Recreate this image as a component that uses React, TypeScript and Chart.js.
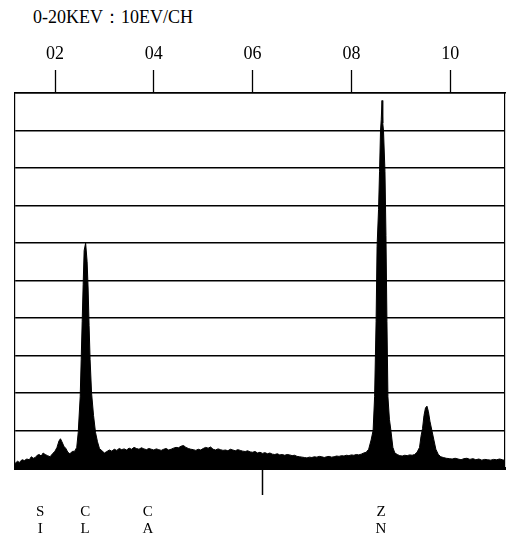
import React, { useEffect, useRef } from "react";
import { Chart, registerables } from "chart.js";

Chart.register(...registerables);

const TITLE = "0-20KEV：10EV/CH";

// energy (keV) of each sampled channel
const ENERGY = [
  1.19, 1.24, 1.28, 1.33, 1.38, 1.43, 1.48, 1.52, 1.56, 1.6, 1.64, 1.68, 1.72, 1.76, 1.8, 1.85, 1.9, 1.95,
  2.0, 2.04, 2.08, 2.11, 2.14, 2.18, 2.22, 2.26, 2.3, 2.35,
  2.4, 2.44, 2.47, 2.51, 2.53, 2.55, 2.57, 2.59, 2.62, 2.65, 2.67, 2.69, 2.71, 2.74, 2.78, 2.82, 2.86, 2.9, 2.95,
  3.0, 3.05, 3.1, 3.15, 3.2, 3.25, 3.3, 3.35, 3.4, 3.45, 3.5, 3.55, 3.6, 3.65, 3.7, 3.75, 3.8, 3.85, 3.9, 3.95,
  4.0, 4.05, 4.1, 4.15, 4.2, 4.25, 4.3, 4.35, 4.4, 4.45, 4.5, 4.55, 4.6, 4.65, 4.7, 4.75, 4.8, 4.85, 4.9, 4.95,
  5.0, 5.05, 5.1, 5.15, 5.2, 5.25, 5.3, 5.35, 5.4, 5.45, 5.5, 5.55, 5.6, 5.65, 5.7, 5.75, 5.8, 5.85, 5.9, 5.95,
  6.0, 6.05, 6.1, 6.15, 6.2, 6.25, 6.3, 6.35, 6.4, 6.45, 6.5, 6.55, 6.6, 6.65, 6.7, 6.75, 6.8, 6.85, 6.9, 6.95,
  7.0, 7.05, 7.1, 7.15, 7.2, 7.25, 7.3, 7.35, 7.4, 7.45, 7.5, 7.55, 7.6, 7.65, 7.7, 7.75, 7.8, 7.85, 7.9, 7.95,
  8.0, 8.05, 8.1, 8.15, 8.2, 8.25, 8.3, 8.35, 8.4,
  8.44, 8.47, 8.5, 8.52, 8.55, 8.57, 8.59, 8.605, 8.62, 8.635, 8.65, 8.68, 8.7, 8.72, 8.74, 8.77, 8.8, 8.84, 8.88,
  8.93, 8.98, 9.03, 9.08, 9.13, 9.18, 9.23, 9.28, 9.33, 9.38,
  9.41, 9.44, 9.47, 9.5, 9.53, 9.56, 9.59, 9.63, 9.67, 9.71, 9.76, 9.81, 9.86, 9.92, 9.98,
  10.04, 10.1, 10.16, 10.22, 10.28, 10.34, 10.4, 10.46, 10.52, 10.58, 10.64, 10.7, 10.76, 10.82, 10.88, 10.94,
  11.0, 11.06, 11.11,
];

// counts (in grid divisions)
const COUNTS = [
  0.12, 0.18, 0.15, 0.22, 0.2, 0.24, 0.22, 0.3, 0.26, 0.28, 0.34, 0.36, 0.32, 0.4, 0.36, 0.33, 0.3, 0.38,
  0.45, 0.55, 0.72, 0.78, 0.7, 0.58, 0.52, 0.42, 0.38, 0.44,
  0.45, 0.55, 0.95, 1.9, 2.9, 3.9, 4.9, 5.8, 6.0, 5.5, 4.8, 3.8, 2.9, 2.0, 1.4, 0.95, 0.7, 0.52, 0.46,
  0.4, 0.44, 0.48, 0.45, 0.5, 0.47, 0.52, 0.49, 0.51, 0.48, 0.53, 0.5, 0.55, 0.52, 0.5, 0.54, 0.51, 0.49, 0.52, 0.5,
  0.48, 0.51, 0.49, 0.47, 0.5, 0.52, 0.48, 0.5, 0.53, 0.55, 0.54, 0.58, 0.6, 0.55, 0.52, 0.5, 0.49, 0.47, 0.5, 0.48,
  0.52, 0.55, 0.53, 0.56, 0.5, 0.48, 0.51, 0.49, 0.47, 0.48, 0.46, 0.5, 0.48, 0.46, 0.49, 0.47, 0.45, 0.44, 0.46, 0.43,
  0.42, 0.44, 0.4, 0.42, 0.39, 0.41, 0.38, 0.4, 0.37, 0.36, 0.38, 0.35, 0.36, 0.34, 0.36, 0.35, 0.33, 0.34, 0.31, 0.3,
  0.29, 0.28, 0.27, 0.29, 0.28, 0.3, 0.29, 0.31, 0.3, 0.28, 0.3, 0.31, 0.29, 0.3, 0.32, 0.31, 0.33, 0.32, 0.34, 0.33,
  0.35, 0.34, 0.36, 0.35, 0.37, 0.4, 0.42, 0.5, 0.75,
  1.0, 1.9, 3.9, 5.9, 6.9, 7.9, 9.0, 9.3, 9.8, 9.2, 9.0, 7.9, 6.2, 3.9, 1.9, 1.3, 1.0, 0.55, 0.4,
  0.36, 0.33, 0.32, 0.34, 0.33, 0.35, 0.34, 0.36, 0.42, 0.55,
  0.85, 1.05, 1.4, 1.6, 1.65, 1.5, 1.25, 1.0, 0.75, 0.5, 0.36, 0.3, 0.28, 0.26, 0.25,
  0.24, 0.26, 0.24, 0.22, 0.25, 0.26, 0.23, 0.25, 0.22, 0.24, 0.21, 0.23, 0.22, 0.21, 0.23, 0.22,
  0.24, 0.22, 0.2,
];

const TOP_TICKS = [2, 4, 6, 8, 10];
const TOP_LABELS = ["02", "04", "06", "08", "10"];

const ELEMENT_POS = [1.7, 2.61, 3.88, 6.21, 8.6];
const ELEMENT_LABELS: (string | string[])[] = [["S", "I"], ["C", "L"], ["C", "A"], "", ["Z", "N"]];

const X_MIN = 1.19;
const X_MAX = 11.11;
const Y_MIN = 0;
const Y_MAX = 10;

const SERIF = "'Liberation Serif', 'DejaVu Serif', serif";

export default function App() {
  const ref = useRef<HTMLCanvasElement | null>(null);

  useEffect(() => {
    if (!ref.current) return;
    const data = ENERGY.map((e, i) => ({ x: e, y: COUNTS[i] }));
    const chart = new Chart(ref.current, {
      type: "line",
      data: {
        datasets: [
          {
            data,
            xAxisID: "x",
            yAxisID: "y",
            borderColor: "#000",
            backgroundColor: "#000",
            borderWidth: 1,
            pointRadius: 0,
            fill: "origin",
            tension: 0,
          },
        ],
      },
      options: {
        animation: false,
        responsive: false,
        maintainAspectRatio: false,
        layout: { padding: { left: 15, right: 9, top: 43, bottom: 6 } },
        plugins: { legend: { display: false }, tooltip: { enabled: false }, title: { display: false } },
        scales: {
          x: {
            type: "linear",
            position: "bottom",
            min: X_MIN,
            max: X_MAX,
            afterBuildTicks: (s: any) => {
              s.ticks = ELEMENT_POS.map((v) => ({ value: v }));
            },
            afterFit: (s: any) => {
              s.height = 70;
            },
            ticks: {
              autoSkip: false,
              maxRotation: 0,
              padding: 8,
              color: "#000",
              font: { family: SERIF, size: 15, lineHeight: 1.15 },
              callback: (_v: any, i: number) => ELEMENT_LABELS[i],
            },
            grid: {
              drawOnChartArea: false,
              drawTicks: true,
              tickLength: 27,
              tickWidth: 1.5,
              tickColor: (ctx: any) => (ELEMENT_LABELS[ctx.index] === "" ? "#000" : "rgba(0,0,0,0)"),
            },
            border: { display: true, color: "#000", width: 3 },
          },
          x2: {
            type: "linear",
            position: "top",
            min: X_MIN,
            max: X_MAX,
            afterBuildTicks: (s: any) => {
              s.ticks = TOP_TICKS.map((v) => ({ value: v }));
            },
            afterFit: (s: any) => {
              s.height = 50;
            },
            ticks: {
              autoSkip: false,
              maxRotation: 0,
              padding: 5,
              color: "#000",
              font: { family: SERIF, size: 18 },
              callback: (_v: any, i: number) => TOP_LABELS[i],
            },
            grid: {
              drawOnChartArea: false,
              drawTicks: true,
              tickLength: 23,
              tickWidth: 1.3,
              tickColor: "#000",
            },
            border: { display: true, color: "#000", width: 1.5 },
          },
          y: {
            type: "linear",
            position: "left",
            min: Y_MIN,
            max: Y_MAX,
            afterFit: (s: any) => {
              s.width = 0;
            },
            ticks: { display: false, stepSize: 1 },
            grid: { drawTicks: false, color: "#000", lineWidth: 1.5 },
            border: { display: true, color: "#000", width: 1.2 },
          },
          y2: {
            type: "linear",
            position: "right",
            min: Y_MIN,
            max: Y_MAX,
            afterFit: (s: any) => {
              s.width = 0;
            },
            ticks: { display: false },
            grid: { drawOnChartArea: false, drawTicks: false },
            border: { display: true, color: "#000", width: 1.2 },
          },
        },
      },
    });
    return () => chart.destroy();
  }, []);

  return (
    <div style={{ position: "fixed", left: 0, top: 0, width: 514, height: 544, background: "#fff" }}>
      <div
        style={{
          position: "absolute",
          left: 33,
          top: 8,
          fontFamily: SERIF,
          fontSize: 18,
          lineHeight: "18px",
          color: "#000",
          whiteSpace: "nowrap",
        }}
      >
        {TITLE}
      </div>
      <canvas ref={ref} width={514} height={544} style={{ position: "absolute", left: 0, top: 0, width: 514, height: 544 }} />
    </div>
  );
}
